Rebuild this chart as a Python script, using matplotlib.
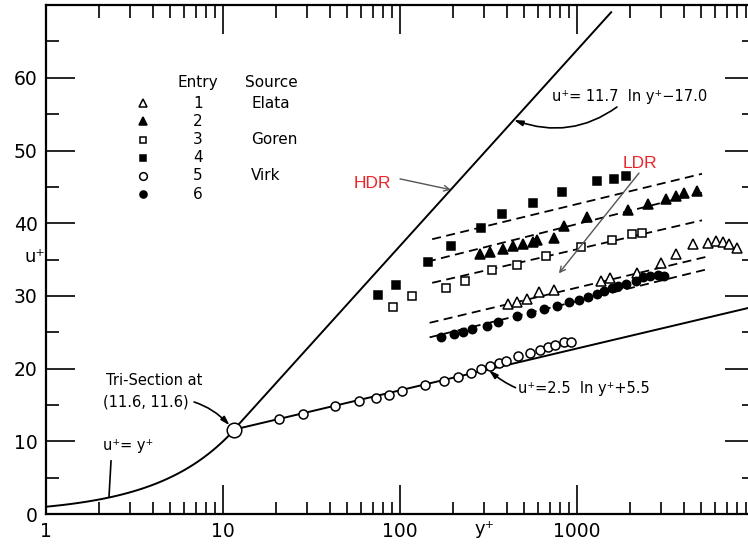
import numpy as np
import matplotlib.pyplot as plt
from matplotlib.ticker import LogLocator, MultipleLocator, NullFormatter

plt.rcParams['font.family'] = ['DejaVu Sans']

# entry 1 - Elata, open triangles
e1_y = [407, 456, 525, 608, 743, 1358, 1536, 2197, 2974, 3616, 4521, 5497, 6123, 6683, 7228, 8017]
e1_u = [28.9, 29.2, 29.6, 30.5, 30.8, 32.0, 32.4, 33.2, 34.5, 35.7, 37.2, 37.3, 37.6, 37.4, 37.1, 36.6]
# entry 2 - filled triangles
e2_y = [283, 322, 382, 437, 496, 564, 597, 745, 845, 1146, 1941, 2518, 3184, 3625, 4009, 4766]
e2_u = [35.8, 36.0, 36.4, 36.8, 37.1, 37.4, 37.7, 38.0, 39.6, 40.8, 41.8, 42.7, 43.3, 43.8, 44.2, 44.5]
# entry 3 - Goren, open squares
e3_y = [91, 117, 182, 233, 332, 458, 668, 1060, 1582, 2040, 2338]
e3_u = [28.5, 30.0, 31.1, 32.1, 33.5, 34.2, 35.5, 36.7, 37.7, 38.5, 38.6]
# entry 4 - filled squares
e4_y = [75, 95, 144, 193, 286, 379, 567, 826, 1292, 1618, 1884]
e4_u = [30.1, 31.5, 34.7, 36.8, 39.4, 41.2, 42.8, 44.3, 45.8, 46.1, 46.5]
# entry 5 - Virk, open circles
e5_y = [20.7, 28.4, 42.9, 58.4, 72.9, 86.7, 102.6, 138.4, 178.4, 213.5, 250.8, 286.8,
        323.7, 362.5, 398.7, 465.4, 541.2, 614.1, 683.9, 755.9, 841.0, 928.5]
e5_u = [13.0, 13.7, 14.8, 15.5, 16.0, 16.4, 16.9, 17.7, 18.3, 18.8, 19.4, 19.9,
        20.4, 20.8, 21.1, 21.7, 22.2, 22.6, 23.0, 23.3, 23.6, 23.7]
# entry 6 - filled circles
e6_y = [170, 203, 228, 255, 311, 359, 456, 552, 651, 776, 907, 1026, 1161, 1289,
        1421, 1576, 1716, 1904, 2141, 2360, 2585, 2880, 3114]
e6_u = [24.3, 24.8, 25.1, 25.4, 25.9, 26.4, 27.2, 27.7, 28.2, 28.6, 29.2, 29.5, 29.9,
        30.3, 30.7, 31.1, 31.3, 31.6, 32.1, 32.6, 32.8, 32.9, 32.7]

# dashed fits through each polymer data set: (y+ start, y+ end), (u+ start, u+ end)
fit_y = [(152, 5085), (142, 5085), (152, 5085), (147, 5425), (147, 5300)]
fit_u = [(37.8, 46.8), (34.7, 44.2), (31.8, 40.4), (26.3, 35.4), (24.3, 33.6)]

entries = ['1', '2', '3', '4', '5', '6']
sources = ['Elata', '', 'Goren', '', 'Virk', '']

fig = plt.figure(figsize=(7.48, 5.46), dpi=100)
ax = fig.add_axes([0.0615, 0.0586, 0.9465, 0.932])
ax.set_xscale('log')
ax.set_xlim(1, 1e4)
ax.set_ylim(0, 70)

# viscous sublayer, Newtonian log law, maximum drag reduction asymptote
yv = np.logspace(0, np.log10(11.6), 80)
ax.plot(yv, yv, color='black', lw=1.4)
yl = np.logspace(np.log10(11.6), 4, 80)
ax.plot(yl, 2.5 * np.log(yl) + 5.5, color='black', lw=1.4, zorder=2)
ym = np.logspace(np.log10(11.6), np.log10(1560), 80)
ax.plot(ym, 11.7 * np.log(ym) - 17.0, color='black', lw=1.4)

for (x0, x1), (u0, u1) in zip(fit_y, fit_u):
    ax.plot([x0, x1], [u0, u1], color='black', lw=1.3, linestyle=(0, (5, 3)))

styles = [('^', 'white', 6.5), ('^', 'black', 7), ('s', 'white', 5.5),
          ('s', 'black', 5.5), ('o', 'white', 6.5), ('o', 'black', 6)]
series = [(e1_y, e1_u), (e2_y, e2_u), (e3_y, e3_u), (e4_y, e4_u), (e5_y, e5_u), (e6_y, e6_u)]
for (xs, us), (m, fc, ms) in zip(series, styles):
    ax.plot(xs, us, linestyle='none', marker=m, ms=ms, mfc=fc, mec='black', mew=1.1, zorder=3)

# tri-section point
ax.plot([11.6], [11.6], marker='o', ms=10.5, mfc='white', mec='black', mew=1.1, zorder=3)

# entry / source table
ax.text(7.2, 59.4, 'Entry', ha='center', va='center', fontsize=11)
ax.text(13.3, 59.4, 'Source', ha='left', va='center', fontsize=11)
for i, (ent, src) in enumerate(zip(entries, sources)):
    u = 56.5 - i * 2.5
    m, fc, ms = styles[i]
    ax.plot([3.53], [u], linestyle='none', marker=m, ms=ms * 0.85, mfc=fc, mec='black', mew=1.1)
    ax.text(7.2, u, ent, ha='center', va='center', fontsize=11)
    if src:
        ax.text(14.4, u, src, ha='left', va='center', fontsize=11)

# labelled equations
ax.annotate('u⁺= 11.7  ln y⁺−17.0', xy=(440, 54.2), xytext=(722, 57.4),
            fontsize=10.5, va='center',
            arrowprops=dict(arrowstyle='-|>,head_length=0.5,head_width=0.15', color='black',
                            lw=1.2, connectionstyle='arc3,rad=-0.3', shrinkA=0, shrinkB=0))
ax.annotate('u⁺=2.5  ln y⁺+5.5', xy=(318, 19.8), xytext=(466, 17.3),
            fontsize=10.5, va='center',
            arrowprops=dict(arrowstyle='-|>,head_length=0.5,head_width=0.15', color='black',
                            lw=1.2, connectionstyle='arc3,rad=-0.3', shrinkA=0, shrinkB=0))
ax.text(2.18, 18.3, 'Tri-Section at', fontsize=10.5, va='center')
ax.annotate('(11.6, 11.6)', xy=(10.9, 12.2), xytext=(2.1, 15.4),
            fontsize=10.5, va='center',
            arrowprops=dict(arrowstyle='-|>,head_length=0.5,head_width=0.15', color='black',
                            lw=1.2, connectionstyle='arc3,rad=-0.3', shrinkA=2, shrinkB=0))
ax.text(2.1, 9.4, 'u⁺= y⁺', fontsize=10.5, va='center')
ax.plot([2.33, 2.27], [7.3, 2.4], color='black', lw=1.2)

# drag reduction regimes
ax.text(70, 45.5, 'HDR', color='#e8262c', fontsize=12.5, ha='center', va='center',
        family='Liberation Sans')
ax.annotate('', xy=(194, 44.6), xytext=(100, 46.1),
            arrowprops=dict(arrowstyle='->', color='#555555', lw=1.0, shrinkA=0, shrinkB=0))
ax.text(2270, 48.2, 'LDR', color='#e8262c', fontsize=12.5, ha='center', va='center',
        family='Liberation Sans')
ax.annotate('', xy=(790, 33.1), xytext=(2240, 46.9),
            arrowprops=dict(arrowstyle='->', color='#555555', lw=1.0, shrinkA=0, shrinkB=0))

# axes styling
ax.set_xticks([1, 10, 100, 1000])
ax.set_xticklabels(['1', '10', '100', '1000'])
ax.xaxis.set_minor_locator(LogLocator(base=10, subs=np.arange(2, 10)))
ax.xaxis.set_minor_formatter(NullFormatter())
ax.set_yticks(range(0, 70, 10))
ax.yaxis.set_minor_locator(MultipleLocator(5))
ax.tick_params(which='both', direction='in', top=True, right=True, width=1.2,
               labelsize=13.5, pad=6)
ax.tick_params(which='major', length=21)
ax.tick_params(which='minor', length=9)
for s in ax.spines.values():
    s.set_linewidth(1.6)

ax.text(300, -2.1, 'y⁺', fontsize=13, ha='center', va='center', clip_on=False)
fig.text(0.047, 0.53, 'u⁺', fontsize=13, ha='center', va='center')

fig.savefig('out.png', dpi=100)
